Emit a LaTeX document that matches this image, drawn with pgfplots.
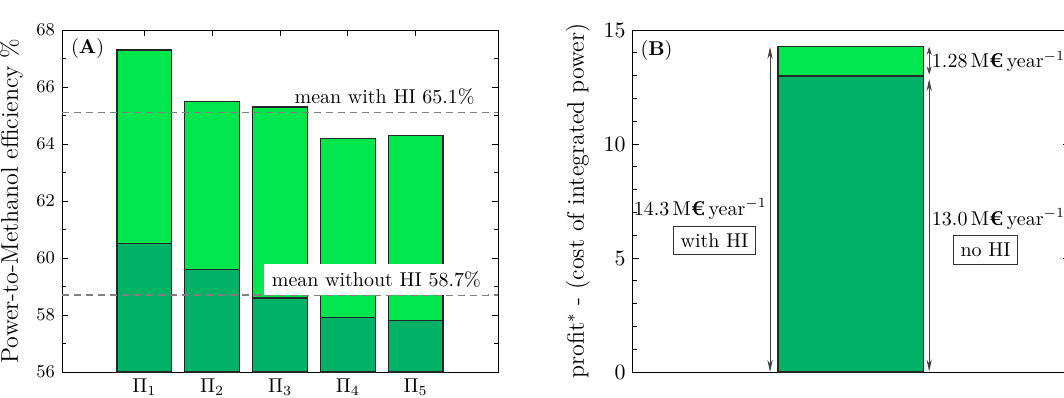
\documentclass[border=0pt]{standalone}
\usepackage{pgfplots}
\pgfplotsset{compat=1.18}
\usetikzlibrary{arrows.meta}
\definecolor{lightg}{RGB}{0,230,77}
\definecolor{darkg}{RGB}{0,178,102}
\newcommand{\eur}{{\bfseries €}}
\pgfplotsset{
  common/.style={
    scale only axis, width=218pt, height=171pt, anchor=south west,
    tick align=inside, major tick length=3pt, minor tick length=2pt,
    tick style={black, thin}, axis line style={black, thin},
    ylabel style={font=\large},
  }
}
\tikzset{dblarrow/.style={{Stealth[length=6pt,width=2.6pt,fill=black]}-{Stealth[length=6pt,width=2.6pt,fill=black]}, black!75, line width=0.55pt}}
\begin{document}
\begin{tikzpicture}
\begin{axis}[common,
  at={(31pt,12.5pt)},
  xmin=-0.215, xmax=6.215, ymin=56, ymax=68,
  xtick={1,2,3,4,5}, xticklabels={$\Pi_1$,$\Pi_2$,$\Pi_3$,$\Pi_4$,$\Pi_5$},
  ytick={56,58,60,62,64,66,68}, minor y tick num=1,
  yticklabel style={font=\small},
  ylabel={Power-to-Methanol efficiency \%},
]
\addplot[ybar, bar width=0.81, bar shift=0pt, fill=lightg, draw=black!85, line width=0.6pt]
  coordinates {(1,67.3) (2,65.5) (3,65.3) (4,64.2) (5,64.3)};
\addplot[ybar, bar width=0.81, bar shift=0pt, fill=darkg, draw=black!85, line width=0.6pt]
  coordinates {(1,60.5) (2,59.6) (3,58.6) (4,57.9) (5,57.8)};
\addplot[sharp plot, no marks, black!50, line width=0.7pt, dash pattern=on 3.5pt off 2.5pt]
  coordinates {(-0.215,65.1) (6.215,65.1)};
\addplot[sharp plot, no marks, black!50, line width=0.7pt, dash pattern=on 3.5pt off 2.5pt]
  coordinates {(-0.215,58.7) (6.215,58.7)};
\node[anchor=south east, inner sep=0pt, yshift=4pt] at (axis cs:5.876,65.1) {mean with HI 65.1\%};
\node[fill=white, inner sep=3.8pt] at (axis cs:4.42,59.25) {mean without HI 58.7\%};
\node[anchor=north west, inner sep=0pt] at (rel axis cs:0.02,0.975) {(\textbf{A})};
\end{axis}

\begin{axis}[common,
  at={(316.35pt,12.5pt)},
  xmin=-1.5, xmax=1.5, ymin=0, ymax=15,
  xtick=\empty,
  ytick={0,5,10,15}, minor y tick num=4,
  yticklabel style={font=\fontsize{11}{13}\selectfont},
  ylabel={profit$^*$ - (cost of integrated power)},
]
\addplot[ybar, bar width=1, bar shift=0pt, fill=lightg, draw=black!85, line width=0.6pt]
  coordinates {(0,14.26)};
\addplot[ybar, bar width=1, bar shift=0pt, fill=darkg, draw=black!85, line width=0.6pt]
  coordinates {(0,12.98)};
\draw[dblarrow] (axis cs:-0.555,0) -- (axis cs:-0.555,14.26);
\draw[dblarrow] (axis cs:0.54,0.02) -- (axis cs:0.54,12.85);
\draw[{Stealth[length=4pt,width=2.6pt,fill=black]}-{Stealth[length=4pt,width=2.6pt,fill=black]}, black!75, line width=0.55pt]
  (axis cs:0.54,13.05) -- (axis cs:0.54,14.26);
\node[anchor=west, inner sep=1.2pt] at (axis cs:0.54,13.62) {1.28\,M\eur\,year$^{-1}$};
\node[anchor=east, inner sep=1pt] at (axis cs:-0.56,7.15) {14.3\,M\eur\,year$^{-1}$};
\node[draw=black!80, thin, inner sep=3.6pt] at (axis cs:-0.937,5.77) {with HI};
\node[anchor=west, inner sep=1.2pt] at (axis cs:0.54,6.71) {13.0\,M\eur\,year$^{-1}$};
\node[draw=black!80, thin, inner sep=3.6pt] at (axis cs:0.928,5.35) {no HI};
\node[anchor=north west, inner sep=0pt] at (rel axis cs:0.017,0.97) {(\textbf{B})};
\node[anchor=south west, inner sep=1pt, font=\small] at (rel axis cs:0.005,1) {M\eur year$^{-1}$};
\end{axis}
\pgfresetboundingbox
\useasboundingbox (0,0) rectangle (532pt,198.5pt);
\end{tikzpicture}
\end{document}
